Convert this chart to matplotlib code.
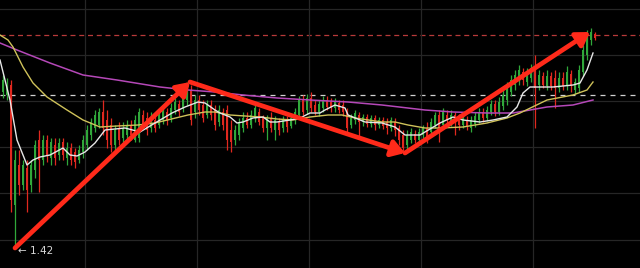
import numpy as np
import matplotlib
matplotlib.use("Agg")
import matplotlib.pyplot as plt
from matplotlib.patches import FancyArrowPatch

# ---- candle data (open, close, high, low) ----
opens = [2.98, 2.95, 3.05, 1.85, 2.25, 2.05, 2.22, 2.05, 2.20, 2.50,
         2.30, 2.50, 2.32, 2.45, 2.35, 2.48, 2.32, 2.42, 2.38, 2.30,
         2.38, 2.45, 2.55, 2.62, 2.65, 2.78, 2.70, 2.65, 2.45, 2.62,
         2.52, 2.55, 2.65, 2.50, 2.52, 2.75, 2.72, 2.62, 2.70, 2.65,
         2.70, 2.78, 2.72, 2.80, 2.86, 2.82, 2.90, 3.00, 2.78, 2.90,
         2.85, 2.75, 2.85, 2.80, 2.68, 2.78, 2.80, 2.60, 2.50, 2.55,
         2.62, 2.72, 2.65, 2.72, 2.78, 2.72, 2.62, 2.72, 2.60, 2.68,
         2.62, 2.70, 2.64, 2.70, 2.75, 2.90, 2.80, 2.92, 2.85, 2.78,
         2.82, 2.90, 2.88, 2.82, 2.87, 2.85, 2.78, 2.65, 2.70, 2.75,
         2.68, 2.73, 2.66, 2.72, 2.65, 2.70, 2.68, 2.62, 2.68, 2.62,
         2.55, 2.45, 2.50, 2.56, 2.50, 2.55, 2.62, 2.58, 2.65, 2.75,
         2.65, 2.75, 2.68, 2.75, 2.72, 2.65, 2.70, 2.62, 2.66, 2.70,
         2.78, 2.72, 2.78, 2.86, 2.78, 2.84, 2.90, 2.98, 3.05, 3.10,
         3.18, 3.08, 3.12, 3.20, 3.05, 3.14, 3.04, 3.14, 3.12, 3.02,
         3.12, 3.04, 3.16, 3.00, 3.02, 3.18, 3.35, 3.50, 3.56]
closes = [3.10, 3.05, 1.90, 2.30, 2.05, 2.25, 2.00, 2.25, 2.45, 2.30,
          2.50, 2.35, 2.48, 2.32, 2.47, 2.35, 2.42, 2.30, 2.28, 2.40,
          2.50, 2.60, 2.68, 2.75, 2.78, 2.62, 2.50, 2.45, 2.60, 2.50,
          2.62, 2.65, 2.55, 2.70, 2.78, 2.65, 2.60, 2.72, 2.62, 2.75,
          2.80, 2.70, 2.82, 2.88, 2.78, 2.95, 3.02, 2.70, 2.90, 2.80,
          2.72, 2.85, 2.75, 2.65, 2.80, 2.65, 2.50, 2.48, 2.60, 2.68,
          2.72, 2.65, 2.75, 2.82, 2.68, 2.62, 2.72, 2.62, 2.70, 2.60,
          2.70, 2.63, 2.72, 2.78, 2.90, 2.78, 2.92, 2.82, 2.78, 2.86,
          2.90, 2.83, 2.82, 2.88, 2.80, 2.78, 2.62, 2.72, 2.77, 2.68,
          2.73, 2.66, 2.72, 2.65, 2.70, 2.64, 2.62, 2.70, 2.60, 2.50,
          2.42, 2.55, 2.58, 2.50, 2.58, 2.62, 2.52, 2.68, 2.75, 2.62,
          2.78, 2.70, 2.75, 2.68, 2.65, 2.72, 2.63, 2.70, 2.74, 2.78,
          2.72, 2.80, 2.86, 2.78, 2.88, 2.95, 3.02, 3.10, 3.15, 3.20,
          3.10, 3.18, 3.22, 3.02, 3.15, 3.05, 3.14, 3.04, 3.02, 3.12,
          3.04, 3.18, 3.04, 3.08, 3.20, 3.40, 3.55, 3.58, 3.52]
highs = [3.15, 3.12, 3.10, 2.40, 2.40, 2.30, 2.30, 2.30, 2.50, 2.60,
         2.55, 2.55, 2.52, 2.52, 2.52, 2.52, 2.48, 2.47, 2.42, 2.45,
         2.55, 2.65, 2.72, 2.80, 2.82, 2.90, 2.80, 2.72, 2.65, 2.68,
         2.68, 2.70, 2.70, 2.75, 2.82, 2.80, 2.78, 2.78, 2.75, 2.80,
         2.85, 2.82, 2.87, 2.92, 2.90, 3.00, 3.08, 3.05, 2.95, 2.95,
         2.90, 2.90, 2.90, 2.85, 2.85, 2.82, 2.85, 2.70, 2.65, 2.72,
         2.78, 2.78, 2.80, 2.85, 2.82, 2.75, 2.75, 2.78, 2.74, 2.72,
         2.74, 2.74, 2.76, 2.82, 2.94, 2.95, 2.96, 2.98, 2.90, 2.90,
         2.94, 2.94, 2.92, 2.92, 2.90, 2.90, 2.82, 2.76, 2.80, 2.78,
         2.76, 2.76, 2.75, 2.75, 2.73, 2.73, 2.72, 2.73, 2.72, 2.65,
         2.60, 2.60, 2.62, 2.60, 2.62, 2.65, 2.68, 2.72, 2.78, 2.80,
         2.82, 2.80, 2.80, 2.78, 2.76, 2.75, 2.74, 2.74, 2.78, 2.82,
         2.82, 2.84, 2.90, 2.90, 2.93, 3.00, 3.08, 3.15, 3.20, 3.25,
         3.22, 3.22, 3.26, 3.35, 3.20, 3.18, 3.20, 3.18, 3.20, 3.18,
         3.18, 3.24, 3.20, 3.12, 3.25, 3.45, 3.60, 3.62, 3.58]
lows = [2.92, 2.90, 1.78, 1.42, 1.95, 2.00, 1.78, 1.98, 2.12, 1.98,
        2.25, 2.28, 2.25, 2.25, 2.30, 2.30, 2.25, 2.25, 2.22, 2.27,
        2.32, 2.40, 2.50, 2.58, 2.62, 2.55, 2.42, 2.38, 2.40, 2.45,
        2.48, 2.50, 2.50, 2.48, 2.48, 2.62, 2.55, 2.58, 2.58, 2.62,
        2.66, 2.65, 2.68, 2.76, 2.74, 2.78, 2.85, 2.65, 2.72, 2.75,
        2.68, 2.72, 2.70, 2.60, 2.64, 2.60, 2.40, 2.38, 2.45, 2.50,
        2.58, 2.62, 2.62, 2.68, 2.65, 2.58, 2.50, 2.58, 2.50, 2.55,
        2.58, 2.58, 2.62, 2.66, 2.72, 2.75, 2.76, 2.78, 2.75, 2.74,
        2.78, 2.80, 2.78, 2.78, 2.77, 2.74, 2.57, 2.62, 2.66, 2.54,
        2.64, 2.63, 2.63, 2.60, 2.62, 2.61, 2.56, 2.59, 2.54, 2.45,
        2.37, 2.40, 2.47, 2.47, 2.45, 2.52, 2.47, 2.55, 2.62, 2.48,
        2.62, 2.66, 2.64, 2.55, 2.60, 2.62, 2.60, 2.58, 2.63, 2.67,
        2.68, 2.69, 2.75, 2.74, 2.75, 2.80, 2.85, 2.94, 3.00, 3.05,
        3.05, 3.04, 3.08, 2.62, 3.00, 3.02, 3.00, 3.00, 2.82, 2.98,
        3.00, 3.00, 2.98, 2.96, 2.98, 3.14, 3.30, 3.45, 3.50]

# ---- moving averages (candle index, price) ----
ma_short_idx = [-0.75, 1.75, 3.5, 6, 7.5, 9.25, 11.75, 15, 16.75, 18.5, 20.5, 23,
                25.5, 30.5, 34.25, 38, 42.25, 45.5, 48.75, 50.5, 53, 54.25, 56.75,
                58.5, 60, 62.5, 65, 66.75, 68.5, 71.75, 74.25, 76.75, 79.25, 80.5,
                83, 85.5, 86.25, 90.5, 94.75, 98, 100.5, 104.25, 109.25, 112.5,
                115, 119.25, 122.5, 126, 128.5, 130, 131.75, 134.25, 137.5, 142.5,
                144.25, 146, 147.5]
ma_short = [3.30, 2.90, 2.50, 2.25, 2.30, 2.33, 2.35, 2.42, 2.35, 2.34, 2.38, 2.47,
            2.60, 2.62, 2.58, 2.67, 2.77, 2.83, 2.88, 2.87, 2.80, 2.77, 2.73,
            2.67, 2.68, 2.72, 2.73, 2.68, 2.68, 2.70, 2.72, 2.77, 2.77, 2.80,
            2.85, 2.82, 2.75, 2.68, 2.67, 2.63, 2.55, 2.55, 2.67, 2.73,
            2.70, 2.68, 2.70, 2.73, 2.83, 2.97, 3.03, 3.03, 3.03, 3.05,
            3.07, 3.20, 3.37]
ma_mid_idx = [-0.75, 1.25, 2.5, 5, 7.5, 11, 16, 20, 24.25, 28.5, 33.75, 38, 46.25,
              50.5, 53, 56.75, 64.25, 68.5, 72.5, 76.75, 81.25, 84.75, 88, 94.75,
              98, 101.25, 105.5, 109.25, 115, 121, 126, 129.25, 136, 142.5, 146,
              147.5]
ma_mid = [3.55, 3.50, 3.43, 3.23, 3.07, 2.93, 2.80, 2.70, 2.63, 2.64, 2.65, 2.67,
          2.75, 2.78, 2.78, 2.75, 2.73, 2.71, 2.70, 2.73, 2.75, 2.75, 2.72, 2.68,
          2.68, 2.65, 2.62, 2.62, 2.63, 2.67, 2.72, 2.77, 2.90, 2.95, 3.00, 3.08]
ma_long_idx = [-0.75, 3.5, 11.75, 20, 28.5, 39.25, 46.25, 53, 60, 68.5, 76.75,
               86.25, 94.75, 105.5, 112.5, 121, 127.5, 136, 142.5, 147.5]
ma_long = [3.47, 3.40, 3.27, 3.15, 3.10, 3.03, 3.00, 2.98, 2.95, 2.92, 2.90,
           2.88, 2.85, 2.80, 2.78, 2.77, 2.77, 2.83, 2.85, 2.90]

# ---- trend arrows: pivot points (candle index, price) ----
pivot_idx = [3, 46.75, 100.5, 146.75]
pivot_price = [1.42, 3.08, 2.37, 3.58]

# ---- reference levels ----
level_high = 3.55
level_mid = 2.95
low_label = 1.42

grid_prices = [3.81, 3.35, 2.89, 2.43, 1.97, 1.50]
grid_idx = [20.5, 48.5, 76.5, 104.5, 132.5]

# ---------------- drawing ----------------
fig = plt.figure(figsize=(6.4, 2.68), dpi=100, facecolor="black")
ax = fig.add_axes([0, 0, 1, 1], facecolor="black")

o = np.array(opens); c = np.array(closes)
h = np.array(highs); l = np.array(lows)
x = np.arange(len(o))
up = c >= o
green = "#30a83a"
red = "#e0281f"
colors = np.where(up, green, red)

ax.set_xticks(grid_idx)
ax.set_yticks(grid_prices)
ax.grid(True, color="#262626", lw=0.9)
ax.tick_params(left=False, bottom=False, labelleft=False, labelbottom=False)
for s in ax.spines.values():
    s.set_visible(False)

ax.vlines(x, l, h, colors=colors, lw=0.9, zorder=2)
ax.bar(x, np.maximum(np.abs(c - o), 0.01), bottom=np.minimum(o, c),
       width=0.7, color=colors, zorder=3, linewidth=0)

ax.plot(ma_long_idx, ma_long, color="#b548b8", lw=1.1, zorder=4)
ax.plot(ma_mid_idx, ma_mid, color="#cfc25a", lw=1.0, zorder=4)
ax.plot(ma_short_idx, ma_short, color="#e6e6e6", lw=1.0, zorder=5)

ax.axhline(level_high, color="#b83a3a", lw=0.9, ls=(0, (4, 3)), zorder=1)
ax.axhline(level_mid, color="#d0d0d0", lw=0.9, ls=(0, (4, 4)), zorder=1)

for i in range(len(pivot_idx) - 1):
    arr = FancyArrowPatch((pivot_idx[i], pivot_price[i]),
                          (pivot_idx[i + 1], pivot_price[i + 1]),
                          arrowstyle="-|>,head_length=0.55,head_width=0.35",
                          mutation_scale=14, color="#ff2a1a", lw=3.4,
                          shrinkA=0, shrinkB=0, zorder=6)
    ax.add_patch(arr)

ax.text(3.8, low_label - 0.03, f"\u2190 {low_label:.2f}", color="#d8d8d8",
        fontsize=7.5, ha="left", va="center", family="DejaVu Sans", zorder=7)

ax.set_xlim(-0.75, 159.25)
ax.set_ylim(1.22, 3.90)

fig.savefig("out.png", dpi=100, facecolor="black")
